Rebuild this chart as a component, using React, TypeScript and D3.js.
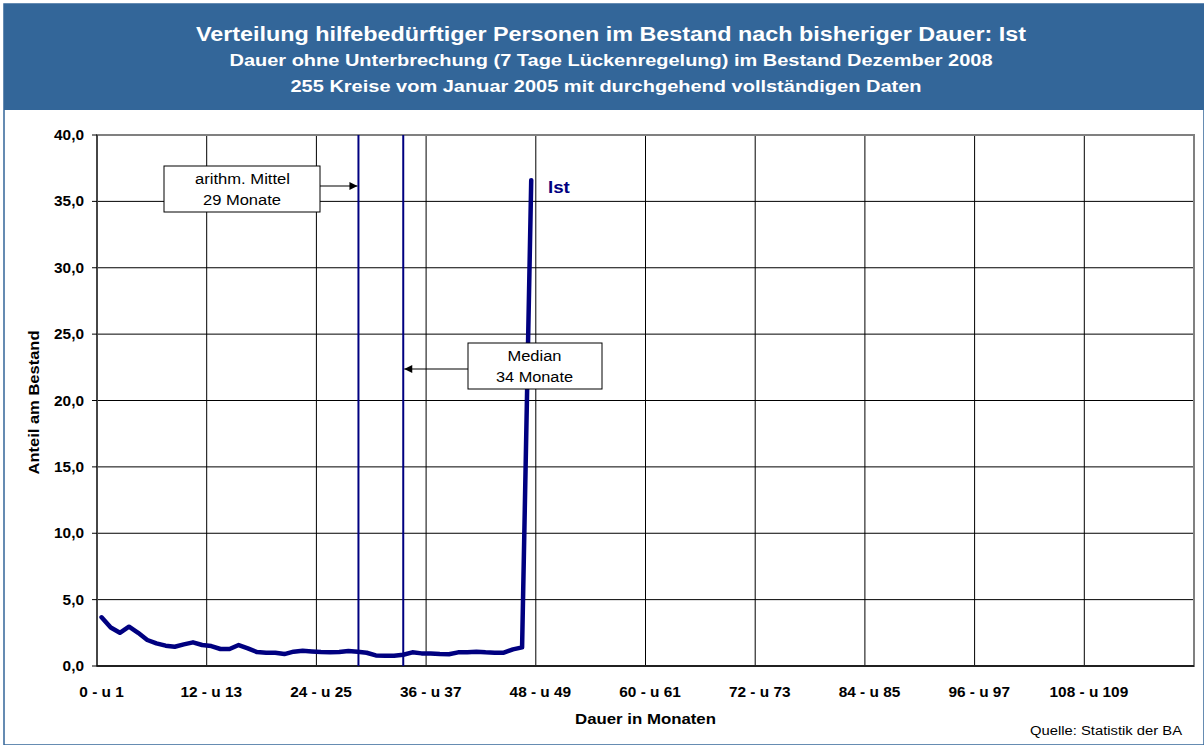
import React from "react";
import * as d3 from "d3";

const titleLines = [
  "Verteilung hilfebedürftiger Personen im Bestand nach bisheriger Dauer: Ist",
  "Dauer ohne Unterbrechung (7 Tage Lückenregelung) im Bestand Dezember 2008",
  "255 Kreise vom Januar 2005 mit durchgehend vollständigen Daten",
];

const categoryCount = 120;
const istValues = [
  3.67, 2.9, 2.5, 2.96, 2.5, 1.96, 1.7, 1.53, 1.45, 1.63, 1.78, 1.58, 1.5, 1.28, 1.28, 1.58,
  1.33, 1.05, 1.0, 1.0, 0.9, 1.08, 1.15, 1.1, 1.05, 1.03, 1.05, 1.13, 1.08, 1.0, 0.8, 0.78,
  0.78, 0.85, 1.03, 0.95, 0.95, 0.9, 0.88, 1.03, 1.03, 1.08, 1.03, 1.0, 1.0, 1.25, 1.4, 36.6,
];
const xTickIndices = [0, 12, 24, 36, 48, 60, 72, 84, 96, 108];
const xTickLabels = xTickIndices.map((i) => `${i} - u ${i + 1}`);
const yTicks = [0, 5, 10, 15, 20, 25, 30, 35, 40];

const meanPos = 28.6;
const medianPos = 33.5;
const meanLabel = ["arithm. Mittel", "29 Monate"];
const medianLabel = ["Median", "34 Monate"];

const W = 1204;
const H = 745;
const plot = { left: 97, top: 135, right: 1194, bottom: 666 };
const NAVY = "#000080";
const BLUE = "#336699";
const FONT = "'Liberation Sans', Arial, sans-serif";

function SText(props: {
  x: number;
  y: number;
  sx?: number;
  anchor?: "start" | "middle" | "end";
  size: number;
  bold?: boolean;
  fill?: string;
  children: React.ReactNode;
}) {
  const { x, y, sx = 1.1, anchor = "middle", size, bold, fill = "#000", children } = props;
  return (
    <text
      transform={`translate(${x},${y}) scale(${sx},1)`}
      textAnchor={anchor}
      fontSize={size}
      fontWeight={bold ? "bold" : "normal"}
      fill={fill}
    >
      {children}
    </text>
  );
}

export default function App() {
  const x = d3.scaleLinear().domain([0, categoryCount]).range([plot.left, plot.right]);
  const y = d3.scaleLinear().domain([0, 40]).range([plot.bottom, plot.top]);

  const line = d3
    .line<number>()
    .x((_, i) => x(i + 0.5))
    .y((d) => y(d));

  const gridX = d3.range(12, categoryCount, 12);

  return (
    <svg
      width={W}
      height={H}
      style={{ position: "absolute", left: 0, top: 0, fontFamily: FONT }}
    >
      <rect x={0} y={0} width={W} height={H} fill="#fff" />
      <rect x={4} y={4} width={W - 4} height={H - 4} fill="none" stroke={BLUE} strokeWidth={1.5} />
      <rect x={4} y={4} width={W - 4} height={106} fill={BLUE} />
      <text x={611} y={41} textAnchor="middle" fill="#fff" fontSize={20} fontWeight="bold" textLength={830} lengthAdjust="spacingAndGlyphs">
        {titleLines[0]}
      </text>
      <text x={611} y={66} textAnchor="middle" fill="#fff" fontSize={16} fontWeight="bold" textLength={763} lengthAdjust="spacingAndGlyphs">
        {titleLines[1]}
      </text>
      <text x={606} y={92} textAnchor="middle" fill="#fff" fontSize={16} fontWeight="bold" textLength={631} lengthAdjust="spacingAndGlyphs">
        {titleLines[2]}
      </text>

      {/* horizontal gridlines */}
      {yTicks.slice(1).map((t) => (
        <line key={"h" + t} x1={plot.left} x2={plot.right} y1={y(t)} y2={y(t)} stroke="#000" strokeWidth={1} />
      ))}
      {/* vertical gridlines */}
      {gridX.map((g) => (
        <line key={"v" + g} x1={x(g)} x2={x(g)} y1={plot.top} y2={plot.bottom} stroke="#000" strokeWidth={1} />
      ))}
      <rect
        x={plot.left}
        y={plot.top}
        width={plot.right - plot.left}
        height={plot.bottom - plot.top}
        fill="none"
        stroke="#808080"
        strokeWidth={2}
      />
      <line x1={plot.left} x2={plot.left} y1={plot.top} y2={plot.bottom} stroke="#333" strokeWidth={1.5} />
      <line x1={plot.left} x2={plot.right} y1={plot.bottom} y2={plot.bottom} stroke="#000" strokeWidth={1.5} />
      {yTicks.map((t) => (
        <line key={"yt" + t} x1={plot.left - 5} x2={plot.left} y1={y(t)} y2={y(t)} stroke="#000" strokeWidth={1} />
      ))}

      {/* y tick labels */}
      {yTicks.map((t) => (
        <SText key={"yl" + t} x={84} y={y(t) + 5} anchor="end" size={14} bold>
          {t.toFixed(1).replace(".", ",")}
        </SText>
      ))}
      <text
        transform={`translate(39,${(plot.top + plot.bottom) / 2 + 2}) rotate(-90)`}
        textAnchor="middle"
        fontSize={14}
        fontWeight="bold"
        textLength={144}
        lengthAdjust="spacingAndGlyphs"
      >
        Anteil am Bestand
      </text>

      {/* x tick labels */}
      {xTickIndices.map((i, k) => (
        <SText key={"xl" + i} x={x(i + 0.5)} y={697} size={14} bold>
          {xTickLabels[k]}
        </SText>
      ))}
      <text x={645.5} y={724} textAnchor="middle" fontSize={14} fontWeight="bold" textLength={141} lengthAdjust="spacingAndGlyphs">
        Dauer in Monaten
      </text>
      <text x={1182} y={735} textAnchor="end" fontSize={12} textLength={152} lengthAdjust="spacingAndGlyphs">
        Quelle: Statistik der BA
      </text>

      {/* mean / median lines */}
      <line x1={x(meanPos)} x2={x(meanPos)} y1={plot.top} y2={plot.bottom} stroke={NAVY} strokeWidth={2} />
      <line x1={x(medianPos)} x2={x(medianPos)} y1={plot.top} y2={plot.bottom} stroke={NAVY} strokeWidth={2} />

      {/* series */}
      <path d={line(istValues) || ""} fill="none" stroke={NAVY} strokeWidth={4.5} strokeLinejoin="round" strokeLinecap="round" />
      <SText x={548} y={193} anchor="start" size={17} bold fill={NAVY}>
        Ist
      </SText>

      {/* annotations */}
      <defs>
        <marker id="arr" viewBox="0 0 10 10" refX={10} refY={5} markerWidth={10} markerHeight={8} orient="auto" markerUnits="userSpaceOnUse">
          <path d="M0,0 L10,5 L0,10 z" fill="#000" />
        </marker>
      </defs>
      <line x1={320} x2={x(meanPos) - 1} y1={186} y2={186} stroke="#000" strokeWidth={1.2} markerEnd="url(#arr)" />
      <rect x={164} y={166} width={156} height={46} fill="#fff" stroke="#000" strokeWidth={1} />
      <text x={242.5} y={184} textAnchor="middle" fontSize={14} textLength={95} lengthAdjust="spacingAndGlyphs">{meanLabel[0]}</text>
      <text x={242} y={205} textAnchor="middle" fontSize={14} textLength={78} lengthAdjust="spacingAndGlyphs">{meanLabel[1]}</text>

      <line x1={468} x2={x(medianPos) + 1} y1={369} y2={369} stroke="#000" strokeWidth={1.2} markerEnd="url(#arr)" />
      <rect x={468} y={343} width={134} height={46} fill="#fff" stroke="#000" strokeWidth={1} />
      <text x={534.5} y={361} textAnchor="middle" fontSize={14} textLength={54} lengthAdjust="spacingAndGlyphs">{medianLabel[0]}</text>
      <text x={534.5} y={382} textAnchor="middle" fontSize={14} textLength={77} lengthAdjust="spacingAndGlyphs">{medianLabel[1]}</text>
    </svg>
  );
}
